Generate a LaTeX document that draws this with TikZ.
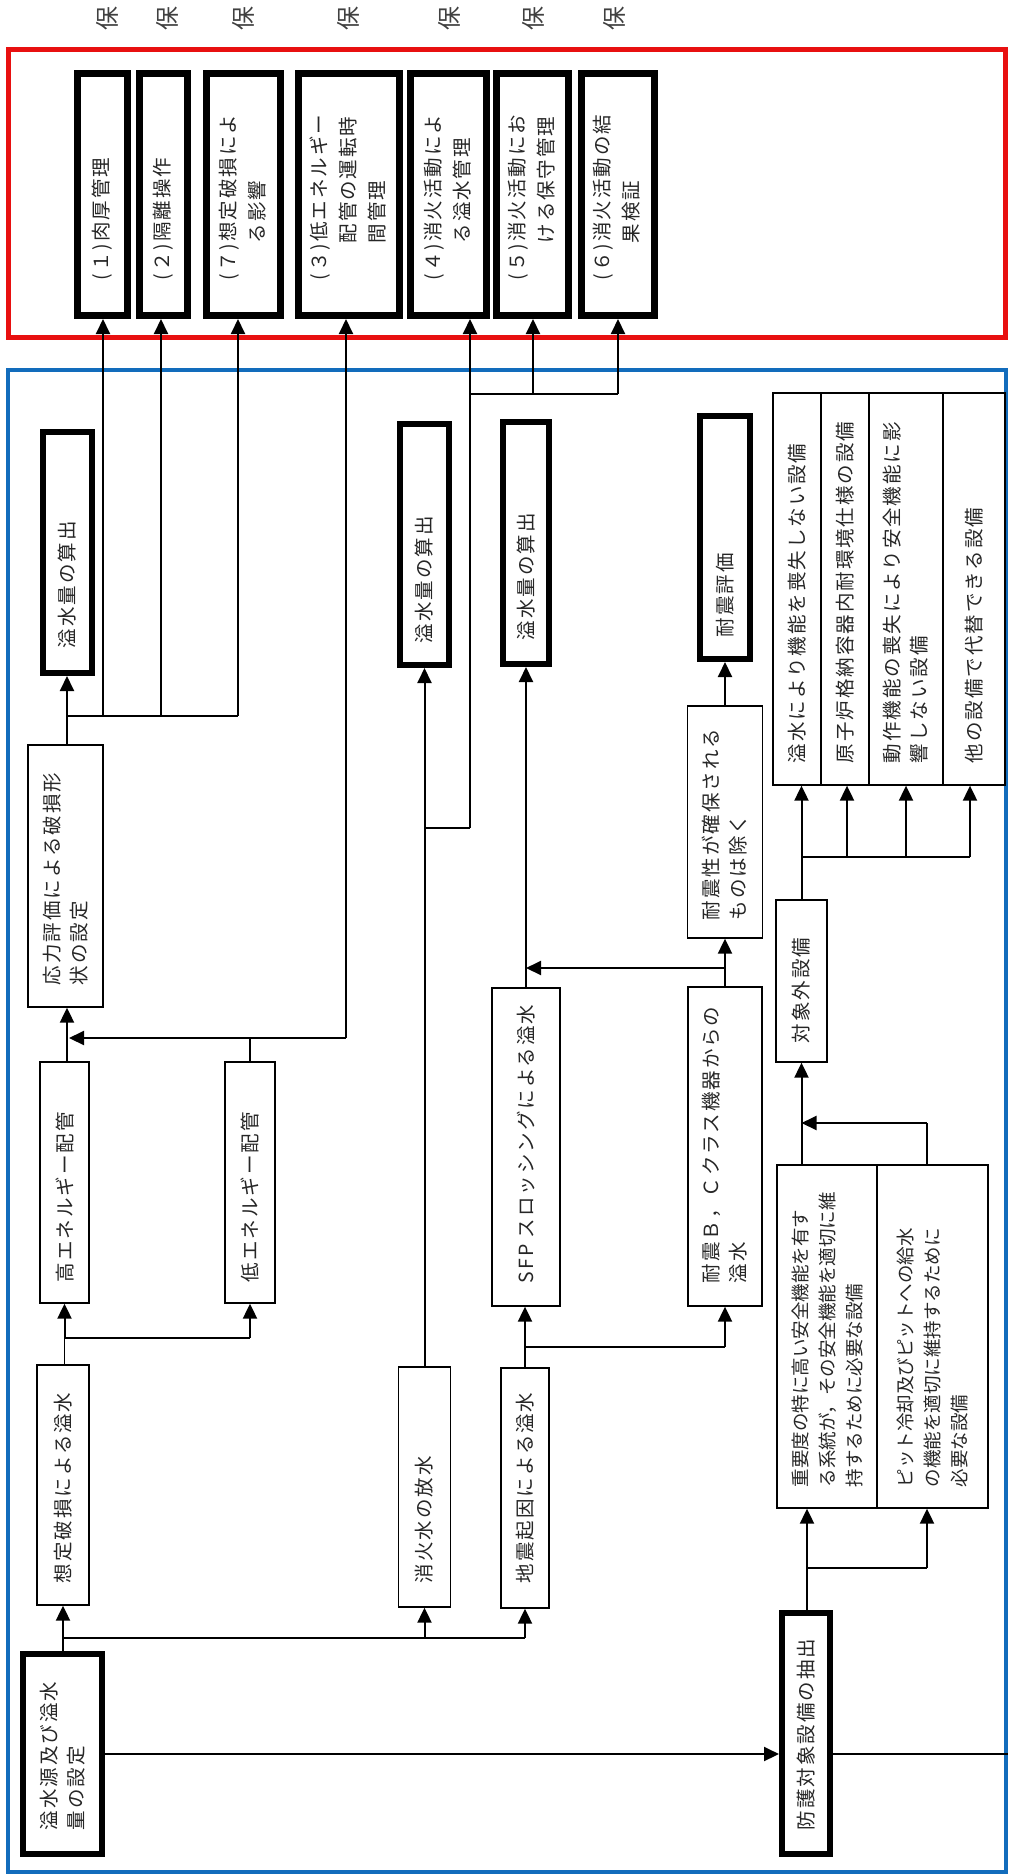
\documentclass[tikz,border=0pt]{standalone}
\usepackage{fontspec}
\usepackage{graphicx}
\setmainfont{Noto Sans CJK JP}[LetterSpace=10]
\newfontfamily\jpn{Noto Sans CJK JP}
\usetikzlibrary{arrows.meta}
\definecolor{rframe}{RGB}{232,16,16}
\definecolor{bframe}{RGB}{18,108,188}
\newcommand\vt[2]{\rotatebox{90}{\parbox{#1pt}{\raggedright #2}}}
\begin{document}
\begin{tikzpicture}[x=1pt,y=1pt,
  rthk/.style={draw, line width=7pt, inner sep=0pt, text=black!85, font=\fontsize{19.5}{29}\selectfont},
  thk/.style={draw, line width=6pt, inner sep=0pt, text=black!85, font=\fontsize{19.5}{27}\selectfont},
  thn/.style={draw, line width=1.3pt, inner sep=0pt, text=black!85, font=\fontsize{19.5}{27}\selectfont},
  ln/.style={line width=1.3pt},
  al/.style={line width=2pt, -{Triangle[length=15pt,width=14pt]}},
  hd/.style={rotate=90, inner sep=0pt, text=black!75, font=\jpn\fontsize{24}{24}\selectfont}]
\useasboundingbox (0,0) rectangle (1009,-1876);

% frames
\node[draw=rframe, line width=5pt, minimum width=997, minimum height=287, inner sep=0pt] (rf) at (506.5,-193.5) {};
\node[draw=bframe, line width=4pt, minimum width=998, minimum height=1502, inner sep=0pt] (bf) at (507,-1121) {};

% top glyphs
\node[hd] (p1) at (107,-19) {保};
\node[hd] (p2) at (167,-19) {保};
\node[hd] (p3) at (243,-19) {保};
\node[hd] (p4) at (348,-19) {保};
\node[hd] (p5) at (449,-19) {保};
\node[hd] (p6) at (533,-19) {保};
\node[hd] (p7) at (614,-19) {保};

% red boxes
\node[rthk, minimum width=50, minimum height=242] (r1) at (102.5,-194.5) {\vt{171}{(１)肉厚管理}};
\node[rthk, minimum width=48, minimum height=242] (r2) at (163.5,-194.5) {\vt{171}{(２)隔離操作}};
\node[rthk, minimum width=74, minimum height=242] (r7) at (243.5,-194.5) {\vt{171}{(７)想定破損によ\\\phantom{(７)}る影響}};
\node[rthk, minimum width=101, minimum height=242] (r3) at (349,-194.5) {\vt{171}{(３)低エネルギー\\\phantom{(３)}配管の運転時\\\phantom{(３)}間管理}};
\node[rthk, minimum width=76, minimum height=242] (r4) at (448.5,-194.5) {\vt{171}{(４)消火活動によ\\\phantom{(４)}る溢水管理}};
\node[rthk, minimum width=72, minimum height=242] (r5) at (532.5,-194.5) {\vt{171}{(５)消火活動にお\\\phantom{(５)}ける保守管理}};
\node[rthk, minimum width=73, minimum height=242] (r6) at (618,-194.5) {\vt{171}{(６)消火活動の結\\\phantom{(６)}果検証}};

% thick boxes in blue frame
\node[thk, minimum width=49, minimum height=241] (calc1) at (67.5,-552.5) {\vt{191}{溢水量の算出}};
\node[thk, minimum width=49, minimum height=241] (calc2) at (424.5,-544.5) {\vt{197}{溢水量の算出}};
\node[thk, minimum width=46, minimum height=242] (calc3) at (526,-543) {\vt{194}{溢水量の算出}};
\node[thk, minimum width=50, minimum height=243] (seis) at (725,-537.5) {\vt{199}{耐震評価}};
\node[thk, minimum width=79, minimum height=200] (src) at (62.5,-1754) {\vt{152}{溢水源及び溢水\\量の設定}};
\node[thk, minimum width=48, minimum height=241] (prot) at (806,-1733.5) {\vt{193}{防護対象設備の抽出}};

% thin boxes
\node[thn, minimum width=75, minimum height=262] (stress) at (65.5,-876) {\vt{218}{応力評価による破損形\\状の設定}};
\node[thn, minimum width=49, minimum height=241] (hiE) at (64.5,-1182.5) {\vt{199}{高エネルギー配管}};
\node[thn, minimum width=50, minimum height=241] (loE) at (250,-1182.5) {\vt{199}{低エネルギー配管}};
\node[thn, minimum width=52, minimum height=240] (assumed) at (63,-1485) {\vt{196}{想定破損による溢水}};
\node[thn, minimum width=52, minimum height=240] (fire) at (424.5,-1487) {\vt{192}{消火水の放水}};
\node[thn, minimum width=48, minimum height=240] (quake) at (525,-1488) {\vt{190}{地震起因による溢水}};
\node[thn, minimum width=68, minimum height=318] (sfp) at (526,-1147) {\vt{272}{\mbox{SFP スロッシングによる溢水}}};
\node[thn, minimum width=74, minimum height=319] (bc) at (725,-1146.5) {\vt{273}{耐震Ｂ，Ｃクラス機器からの\\溢水}};
\node[thn, minimum width=75, minimum height=232] (ok) at (725,-822) {\vt{196}{耐震性が確保される\\ものは除く}};
\node[thn, minimum width=51, minimum height=162] (ext) at (801.5,-981) {\vt{124}{対象外設備}};
\node[thn, minimum width=48, minimum height=392] (e1) at (797,-589) {\vt{348}{溢水により機能を喪失しない設備}};
\node[thn, minimum width=48, minimum height=392] (e2) at (845,-589) {\vt{348}{原子炉格納容器内耐環境仕様の設備}};
\node[thn, minimum width=74, minimum height=392] (e3) at (906,-589) {\vt{348}{動作機能の喪失により安全機能に影\\響しない設備}};
\node[thn, minimum width=62, minimum height=392] (e4) at (974,-589) {\vt{348}{他の設備で代替できる設備}};
\node[thn, minimum width=100, minimum height=343] (imp) at (827,-1336.5) {\vt{301}{\jpn\fontsize{18.5}{27}\selectfont 重要度の特に高い安全機能を有す\\る系統が，その安全機能を適切に維\\持するために必要な設備}};
\node[thn, minimum width=111, minimum height=343] (pit) at (932.5,-1336.5) {\vt{301}{\jpn\fontsize{18.5}{27}\selectfont ピット冷却及びピットへの給水\\の機能を適切に維持するために\\必要な設備}};

% junction coordinates
\coordinate (ja) at (67,-716);
\coordinate (j1) at (103,-716);
\coordinate (j2) at (161,-716);
\coordinate (j7) at (238,-716);
\coordinate (j3) at (346,-1038);
\coordinate (jl) at (69,-1038);
\coordinate (j4) at (470,-828);
\coordinate (jf) at (424.5,-828);
\coordinate (j4t) at (470,-394);
\coordinate (j5) at (533,-394);
\coordinate (j6) at (618,-394);
\coordinate (jb) at (725,-968);
\coordinate (je) at (801.5,-857);
\coordinate (je2) at (847,-857);
\coordinate (je3) at (906,-857);
\coordinate (je4) at (970,-857);
\coordinate (jp) at (927,-1123);
\coordinate (jq) at (807,-1568);
\coordinate (jq2) at (927,-1568);
\coordinate (jt) at (63,-1638);
\coordinate (jt2) at (424.5,-1638);
\coordinate (jt3) at (525,-1638);
\coordinate (ju) at (64.5,-1338);
\coordinate (ju2) at (250,-1338);
\coordinate (jv) at (525,-1347);
\coordinate (jv2) at (725,-1347);

% connectors to red boxes
\draw[al] (ja |- stress.north) -- (ja |- calc1.south);
\draw[ln] (ja) -- (j7);
\draw[al] (j1) -- (j1 |- r1.south);
\draw[al] (j2) -- (j2 |- r2.south);
\draw[al] (j7) -- (j7 |- r7.south);
\draw[al] (j3) -- (j3 |- r3.south);
\draw[al] (j3) -- (jl);
\draw[ln] (loE.north) -- (loE.north |- j3);
\draw[al] (ja |- hiE.north) -- (ja |- stress.south);
\draw[al] (j4) -- (j4 |- r4.south);
\draw[ln] (j4t) -- (j6);
\draw[al] (j5) -- (j5 |- r5.south);
\draw[al] (j6) -- (j6 |- r6.south);
\draw[ln] (jf) -- (j4);

% middle connectors
\draw[al] (fire.north) -- (calc2.south);
\draw[al] (sfp.north) -- (calc3.south);
\draw[al] (ok.north) -- (seis.south);
\draw[al] (bc.north) -- (ok.south);
\draw[al] (jb) -- (calc3 |- jb);
\draw[ln] (je) -- (je4);
\draw[al] (ext.north) -- (ext.north |- e1.south);
\draw[al] (je2) -- (je2 |- e2.south);
\draw[al] (je3) -- (je3 |- e3.south);
\draw[al] (je4) -- (je4 |- e4.south);
\draw[al] (ext.south |- imp.north) -- (ext.south);
\draw[ln] (jp |- pit.north) -- (jp);
\draw[al] (jp) -- (jp -| ext.south);

% lower connectors
\draw[ln] (jq |- prot.north) -- (jq);
\draw[ln] (jq) -- (jq2);
\draw[al] (jq) -- (jq |- imp.south);
\draw[al] (jq2) -- (jq2 |- pit.south);
\draw[al] (src.east) -- (src.east -| prot.west);
\draw[ln] (src.east -| prot.east) -- (src.east -| bf.east);
\draw[ln] (jt |- src.north) -- (jt);
\draw[ln] (jt) -- (jt3);
\draw[al] (jt) -- (jt |- assumed.south);
\draw[al] (jt2) -- (jt2 |- fire.south);
\draw[al] (jt3) -- (jt3 |- quake.south);
\draw[ln] (ju |- assumed.north) -- (ju);
\draw[ln] (ju) -- (ju2);
\draw[al] (ju) -- (ju |- hiE.south);
\draw[al] (ju2) -- (ju2 |- loE.south);
\draw[ln] (jv |- quake.north) -- (jv);
\draw[ln] (jv) -- (jv2);
\draw[al] (jv) -- (jv |- sfp.south);
\draw[al] (jv2) -- (jv2 |- bc.south);
\end{tikzpicture}
\end{document}
